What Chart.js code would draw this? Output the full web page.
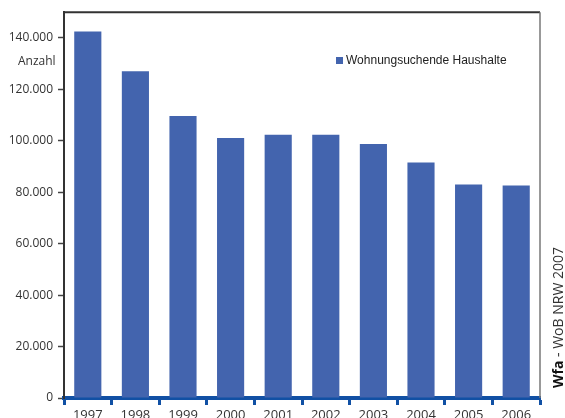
<!DOCTYPE html>
<html>
<head>
<meta charset="utf-8">
<script src="https://cdn.jsdelivr.net/npm/chart.js@4/dist/chart.umd.min.js"></script>
<style>
  html, body { margin: 0; padding: 0; background: #fff; }
  #wrap { width: 565px; height: 418px; position: relative; }
</style>
</head>
<body>
<div id="wrap"><canvas id="myChart"></canvas></div>
<script>
// DATA
const years = ["1997", "1998", "1999", "2000", "2001", "2002", "2003", "2004", "2005", "2006"];
const households = [142500, 127000, 109600, 101100, 102400, 102400, 98800, 91600, 83000, 82600];
const yTicks = [0, 20000, 40000, 60000, 80000, 100000, 120000, 140000];
const seriesLabel = "Wohnungsuchende Haushalte";
const unitLabel = "Anzahl";
const sourceBold = "Wfa";
const sourceRest = " - WoB NRW 2007";

const barBlue = "#4364ae";
const axisBlue = "#1150a4";

// 140000 -> "140.000"
function dotted(v) {
  return String(v).replace(/\B(?=(\d{3})+(?!\d))/g, ".");
}

// frame, legend, unit label and source line
const extras = {
  id: "extras",
  afterDraw(chart) {
    const ctx = chart.ctx;
    const a = chart.chartArea;
    ctx.save();
    // top border
    ctx.strokeStyle = "#333";
    ctx.lineWidth = 2;
    ctx.beginPath();
    ctx.moveTo(a.left - 1, a.top);
    ctx.lineTo(a.right, a.top);
    ctx.stroke();
    // right border
    ctx.strokeStyle = "#777";
    ctx.lineWidth = 1.5;
    ctx.beginPath();
    ctx.moveTo(a.right, a.top);
    ctx.lineTo(a.right, a.bottom);
    ctx.stroke();

    // legend
    ctx.fillStyle = barBlue;
    ctx.fillRect(336, 57, 7, 7);
    ctx.fillStyle = "#222";
    ctx.font = "12px 'Liberation Sans', Arial, sans-serif";
    ctx.textBaseline = "middle";
    ctx.textAlign = "left";
    ctx.fillText(chart.data.datasets[0].label, 346, 61);

    // unit label
    ctx.fillStyle = "#333";
    ctx.font = "12px 'Open Sans', sans-serif";
    ctx.fillText(unitLabel, 18, 62);

    // source, rotated
    ctx.translate(559, 388);
    ctx.rotate(-Math.PI / 2);
    ctx.fillStyle = "#111";
    ctx.font = "bold 14px 'Open Sans', sans-serif";
    ctx.fillText(sourceBold, 0, 0);
    const w = ctx.measureText(sourceBold).width;
    ctx.font = "14px 'Open Sans', sans-serif";
    ctx.fillStyle = "#333";
    ctx.fillText(sourceRest, w, 0);
    ctx.restore();
  }
};

const barCanvas = document.getElementById("myChart");
const barChart = new Chart(barCanvas, {
  type: "bar",
  data: {
    labels: years,
    datasets: [{
      label: seriesLabel,
      data: households,
      backgroundColor: barBlue,
      barPercentage: 0.57,
      categoryPercentage: 1
    }]
  },
  options: {
    responsive: true,
    maintainAspectRatio: false,
    animation: false,
    layout: {
      padding: { left: 0, top: 9, right: 25, bottom: 0 }
    },
    scales: {
      x: {
        afterFit(scale) { scale.height = 20; },
        border: { color: axisBlue, width: 4 },
        grid: {
          drawOnChartArea: false,
          offset: true,
          tickLength: 7,
          tickWidth: 3,
          tickColor: axisBlue
        },
        ticks: {
          color: "#333",
          padding: 2,
          font: { family: "'Open Sans'", size: 13 }
        }
      },
      y: {
        min: 0,
        max: 150000,
        afterFit(scale) { scale.width = 64; },
        // only the 20.000 steps get a label, the top stays empty
        afterBuildTicks(scale) {
          scale.ticks = yTicks.map((v) => ({ value: v }));
        },
        border: { color: "#333", width: 2 },
        grid: {
          drawOnChartArea: false,
          tickLength: 6,
          tickWidth: 1.5,
          tickColor: "#444"
        },
        ticks: {
          color: "#333",
          padding: 5,
          font: { family: "'Open Sans'", size: 12 },
          callback: (v) => dotted(v)
        }
      }
    },
    plugins: {
      legend: { display: false },
      tooltip: { enabled: false }
    }
  },
  plugins: [extras]
});
</script>
</body>
</html>
